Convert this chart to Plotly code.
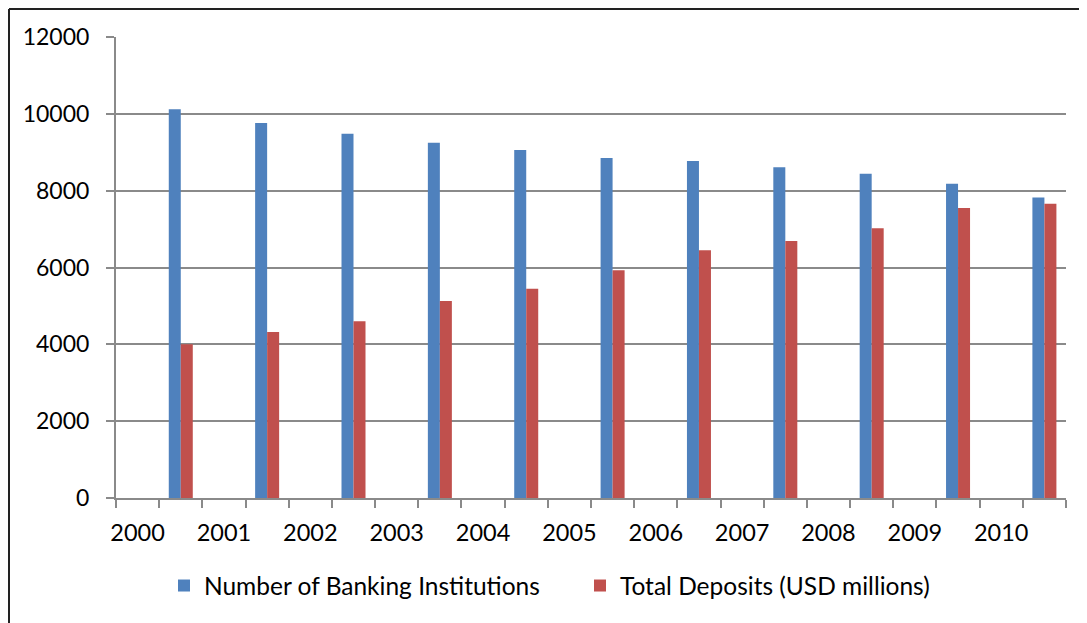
import plotly.graph_objects as go

years = [str(y) for y in range(2000, 2011)]
institutions = [10120, 9760, 9480, 9250, 9060, 8850, 8770, 8610, 8440, 8180, 7820]
deposits = [4000, 4320, 4600, 5130, 5450, 5930, 6450, 6690, 7020, 7550, 7660]
y_ticks = [0, 2000, 4000, 6000, 8000, 10000, 12000]

BLUE = "#4F81BD"
RED = "#C0504D"
GRID = "#8A8A8A"
FONT = "Lato"

n = len(years)
label_pos = [2 * i + 0.5 for i in range(n)]   # year labels sit in even slots
bar_pos = [2 * i + 1.5 for i in range(n)]     # bars sit in odd slots
bw = 0.278

# the page body adds an 8px offset, so the figure is drawn 8px smaller
W, H = 1079, 615
L, T, R, B = 108, 29, 21, 125
PW, PH = W - L - R, H - T - B

fig = go.Figure()
fig.add_trace(go.Bar(x=bar_pos, y=institutions, name="Number of Banking Institutions",
                     marker=dict(color=BLUE, line=dict(width=0)), width=bw, offset=-bw))
fig.add_trace(go.Bar(x=bar_pos, y=deposits, name="Total Deposits (USD millions)",
                     marker=dict(color=RED, line=dict(width=0)), width=bw, offset=0))

fig.update_layout(
    width=W, height=H,
    margin=dict(l=L, r=R, t=T, b=B, autoexpand=False),
    paper_bgcolor="white", plot_bgcolor="white",
    barmode="overlay",
    font=dict(family=FONT, size=23, color="black"),
    showlegend=True,
    legend=dict(orientation="h", x=0.0505, y=-0.19, xanchor="left", yanchor="middle",
                font=dict(family=FONT, size=24.5, color="black"),
                entrywidth=371, entrywidthmode="pixels",
                bgcolor="rgba(0,0,0,0)"),
)

fig.update_xaxes(
    range=[0, 2 * n], tickmode="array", tickvals=label_pos, ticktext=years,
    ticks="", showgrid=False, zeroline=False,
    showline=True, linecolor=GRID, linewidth=2,
    ticklabelstandoff=13,
    tickfont=dict(size=23.5),
    minor=dict(tickmode="array", tickvals=list(range(2 * n + 1)), ticks="outside",
               ticklen=8, tickwidth=2, tickcolor=GRID, showgrid=False),
)
fig.update_yaxes(
    range=[0, 12000], tickmode="array", tickvals=y_ticks, tickformat="d",
    ticks="outside", ticklen=8, tickwidth=2, tickcolor=GRID,
    showgrid=True, gridcolor=GRID, gridwidth=2, zeroline=False,
    showline=True, linecolor=GRID, linewidth=2,
    ticklabelstandoff=12,
)

# outer chart frame (left and top edges)
fx = -(L - 1) / PW
fy = 1 + (T - 1) / PH
fig.add_shape(type="line", xref="paper", yref="paper",
              x0=fx, x1=fx, y0=-0.3, y1=fy,
              line=dict(color="#222222", width=2))
fig.add_shape(type="line", xref="paper", yref="paper",
              x0=fx, x1=1.05, y0=fy, y1=fy,
              line=dict(color="#222222", width=2))

fig.write_html("out.html")
